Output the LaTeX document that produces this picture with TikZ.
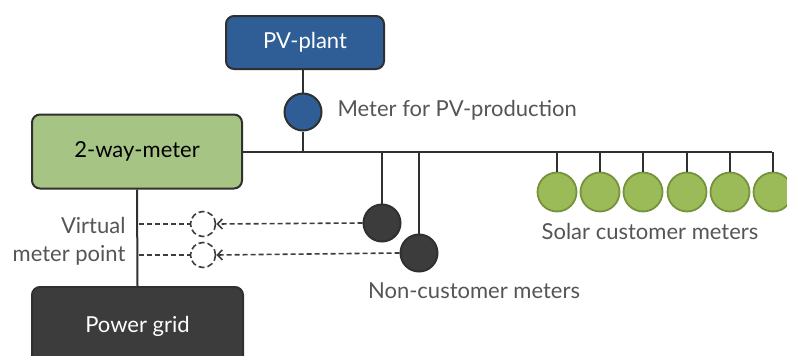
\documentclass[tikz,border=0pt]{standalone}
\usepackage{fontspec}
\setmainfont{Lato}
\usetikzlibrary{arrows.meta}
\definecolor{pvblue}{HTML}{2F5D95}
\definecolor{lgreen}{HTML}{A6C585}
\definecolor{sgreen}{HTML}{9BBB59}
\definecolor{sgreenb}{HTML}{76923C}
\definecolor{dgray}{HTML}{3C3C3C}
\definecolor{lcol}{HTML}{303030}
\definecolor{tgray}{HTML}{555555}
\tikzset{
  box/.style={draw=lcol, line width=2pt, rounded corners=8pt, inner sep=0pt},
  wire/.style={draw=lcol, line width=2pt},
  meterc/.style={circle, draw=lcol, line width=2pt, minimum size=37pt, inner sep=0pt},
  solarc/.style={circle, draw=sgreenb, fill=sgreen, line width=1.8pt, minimum size=39pt, inner sep=0pt},
  virt/.style={circle, draw=dgray, dash pattern=on 6pt off 3pt, line width=1.6pt, minimum size=25pt, inner sep=0pt},
  lbl/.style={text=tgray, font=\fontsize{22}{25}\selectfont},
  boxtxt/.style={font=\fontsize{22}{25}\selectfont},
  dl/.style={draw=dgray, dash pattern=on 5pt off 3pt, line width=1.6pt},
}
\begin{document}
\begin{tikzpicture}[x=1pt,y=-1pt]
\useasboundingbox (0,0) rectangle (787,356);
\begin{scope}
\clip (0,0) rectangle (787,356);
% boxes
\node[box, boxtxt, fill=pvblue, minimum width=158pt, minimum height=53pt, text=white] (pv) at (305,42.5) {PV-plant};
\node[box, boxtxt, fill=lgreen, minimum width=210pt, minimum height=74pt, text=black] (twm) at (137,151.5) {2-way-meter};
\node[box, fill=dgray, minimum width=211pt, minimum height=90pt] (grid) at (137.5,332) {};
\node[boxtxt, text=white] (gridl) at (137.5,326) {Power grid};
% meter PV
\node[meterc, fill=pvblue] (mpv) at (303,112) {};
\node[lbl, anchor=west] (mpvl) at (334,110) {Meter for PV-production};
% bus
\coordinate (busend) at (772,152);
\coordinate (bpv) at (303,152);
\draw[wire] (twm.east |- busend) -- (busend);
\draw[wire] (pv.south -| mpv) -- (mpv.north);
\draw[wire] (mpv.south) -- (bpv);
% grid link
\draw[wire] (twm.south) -- (grid.north);
% non customer meters
\node[meterc, fill=dgray] (nc1) at (382,223) {};
\node[meterc, fill=dgray] (nc2) at (419,253) {};
\draw[wire] (nc1.north |- busend) -- (nc1.north);
\draw[wire] (nc2.north |- busend) -- (nc2.north);
\node[lbl] (ncl) at (474,291) {Non-customer meters};
% virtual meter points
\node[virt] (v1) at (203,224) {};
\node[virt] (v2) at (203,255) {};
\coordinate (t1) at (139,224);
\coordinate (t2) at (139,255);
\draw[dl] (t1) -- (v1.west);
\draw[dl] (t2) -- (v2.west);
\draw[dl, -{Straight Barb[length=5pt,width=10pt]}] (nc1.west) -- (v1.east);
\draw[dl, -{Straight Barb[length=5pt,width=10pt]}] (nc2.west) -- (v2.east);
\node[lbl, anchor=east] (vl1) at (129,225) {Virtual};
\node[lbl, anchor=east] (vl2) at (129,255) {meter point};
% solar customer meters
\foreach \i/\x in {1/557,2/600,3/643,4/687,5/730,6/773}{
  \node[solarc] (s\i) at (\x,192) {};
  \draw[wire] (s\i.north |- busend) -- (s\i.north);
}
\node[lbl] (sl) at (650,231) {Solar customer meters};
\end{scope}
\end{tikzpicture}
\end{document}
